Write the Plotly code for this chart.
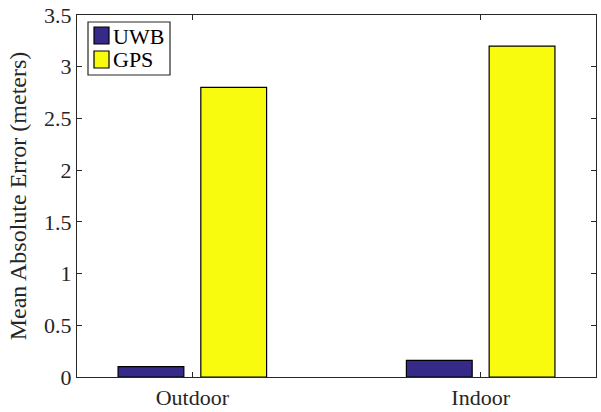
import plotly.graph_objects as go

# Mean absolute positioning error by environment
categories = ["Outdoor", "Indoor"]
cat_pos = [1, 2]
series_names = ["UWB", "GPS"]
uwb_error = [0.10, 0.16]
gps_error = [2.80, 3.20]
y_ticks = [0, 0.5, 1, 1.5, 2, 2.5, 3, 3.5]
y_tick_text = ["0", "0.5", "1", "1.5", "2", "2.5", "3", "3.5"]

font_family = "Liberation Serif, Times New Roman, serif"
axis_color = "#262626"
colors = ["#352a87", "#f9fb0e"]

W, H = 601, 412
M = dict(l=77, r=5, t=15, b=35)
plot_w = W - M["l"] - M["r"]
plot_h = H - M["t"] - M["b"]


def px_x(x):
    return (x - M["l"]) / plot_w


def px_y(y):
    return (H - M["b"] - y) / plot_h


fig = go.Figure()
for name, vals, col in zip(series_names, [uwb_error, gps_error], colors):
    fig.add_trace(go.Bar(
        name=name, x=cat_pos, y=vals, showlegend=False,
        marker=dict(color=col, line=dict(color="#000000", width=1.2)),
    ))

# Boxed legend with tall colour patches
shapes = [dict(type="rect", xref="paper", yref="paper",
               x0=px_x(88), x1=px_x(170), y0=px_y(75), y1=px_y(22),
               line=dict(color=axis_color, width=1.2), fillcolor="white", layer="above")]
annotations = []
for i, (name, col) in enumerate(zip(series_names, colors)):
    top = 27 + i * 24
    shapes.append(dict(type="rect", xref="paper", yref="paper",
                       x0=px_x(94), x1=px_x(109), y0=px_y(top + 17), y1=px_y(top),
                       line=dict(color="#000000", width=1.2), fillcolor=col, layer="above"))
    annotations.append(dict(xref="paper", yref="paper", x=px_x(111), y=px_y(top + 9),
                            xanchor="left", yanchor="middle", text=name, showarrow=False,
                            font=dict(family=font_family, size=22, color="#000000")))

fig.update_layout(
    width=W, height=H,
    margin=M,
    paper_bgcolor="white", plot_bgcolor="white",
    barmode="group", bargap=0.426, bargroupgap=0.205,
    font=dict(family=font_family, size=22, color=axis_color),
    shapes=shapes, annotations=annotations,
    xaxis=dict(
        range=[0.6, 2.4], tickmode="array", tickvals=cat_pos, ticktext=categories,
        ticks="inside", ticklen=5, tickwidth=1, tickcolor=axis_color,
        showline=True, linecolor=axis_color, linewidth=1.2, mirror="ticks",
        showgrid=False, zeroline=False, automargin=False,
        tickfont=dict(family=font_family, size=22, color=axis_color),
    ),
    yaxis=dict(
        range=[0, 3.5], tickmode="array", tickvals=y_ticks, ticktext=y_tick_text,
        ticks="inside", ticklen=5, tickwidth=1, tickcolor=axis_color,
        showline=True, linecolor=axis_color, linewidth=1.2, mirror="ticks",
        showgrid=False, zeroline=False, automargin=False,
        tickfont=dict(family=font_family, size=22, color=axis_color),
        title=dict(text="Mean Absolute Error (meters)", standoff=10,
                   font=dict(family=font_family, size=24, color=axis_color)),
    ),
)

fig.write_html("out.html")
